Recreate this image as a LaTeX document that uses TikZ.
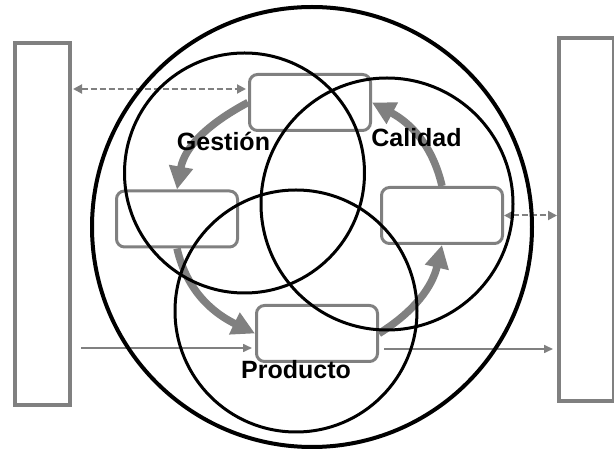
\documentclass[tikz,border=0pt]{standalone}
\usepackage{fontspec}
\setmainfont{Liberation Sans}
\usetikzlibrary{arrows.meta,calc}
\definecolor{gr}{HTML}{808080}
\begin{document}
\begin{tikzpicture}[x=1pt,y=1pt,
  box/.style={draw=gr,line width=3pt,rounded corners=8pt,minimum width=121pt,minimum height=56pt,inner sep=0pt},
  sidebar/.style={draw=gr,line width=4pt,inner sep=0pt},
  ring/.style={circle,draw=black,line width=3pt,inner sep=0pt},
  cyclearrow/.style={draw=gr,line width=7.5pt,-{Triangle[length=23pt,width=23pt]}},
  dasharrow/.style={draw=gr,line width=2pt,dash pattern=on 6pt off 3pt,{Triangle[length=9pt,width=9pt]}-{Triangle[length=9pt,width=9pt]}},
  flowarrow/.style={draw=gr,line width=1.6pt,-{Triangle[length=9pt,width=8pt]}},
  lbl/.style={font=\bfseries\fontsize{25}{30}\selectfont,anchor=base,inner sep=0pt}]
\useasboundingbox (0,0) rectangle (614,450);
% side bars
\node[sidebar,minimum width=55pt,minimum height=362pt] (lrect) at (42.5,226) {};
\node[sidebar,minimum width=55pt,minimum height=363pt] (rrect) at (586.5,230.5) {};
% boxes
\node[box] (top) at (310,347.5) {};
\node[box] (left) at (177,231) {};
\node[box] (right) at (442,234.5) {};
\node[box] (bot) at (317,116.5) {};
% cycle arrows
\draw[cyclearrow] (top.west) to[out=208,in=80] (left.north);
\draw[cyclearrow] (left.south) to[out=283,in=154] (bot.west);
\draw[cyclearrow] (bot.east) to[out=32,in=257] (right.south);
\draw[cyclearrow] (right.north) to[out=103,in=332] (top.east);
% connectors
\coordinate (dA) at (0,361);
\draw[dasharrow,shorten <=1pt,shorten >=2pt] (lrect.east |- dA) -- (top.west |- dA);
\draw[dasharrow] (right.east) -- (rrect.west |- right.east);
\coordinate (inA) at (81,102);
\draw[flowarrow,shorten >=3pt] (inA) -- (bot.west |- inA);
\coordinate (outA) at (0,101);
\draw[flowarrow,shorten <=5pt,shorten >=4pt] (bot.east |- outA) -- (rrect.west |- outA);
% circles
\node[ring,line width=4pt,minimum size=440pt] (outer) at (312,223) {};
\node[ring,minimum size=240pt] (cg) at (244.5,277) {};
\node[ring,minimum size=252pt] (cc) at (387,246) {};
\node[ring,minimum size=242pt] (cp) at (296,139) {};
% labels
\node[lbl] (lg) at (223.5,299) {Gestión};
\node[lbl] (lc) at (416.5,303) {Calidad};
\node[lbl] (lp) at (296,71) {Producto};
\end{tikzpicture}
\end{document}
